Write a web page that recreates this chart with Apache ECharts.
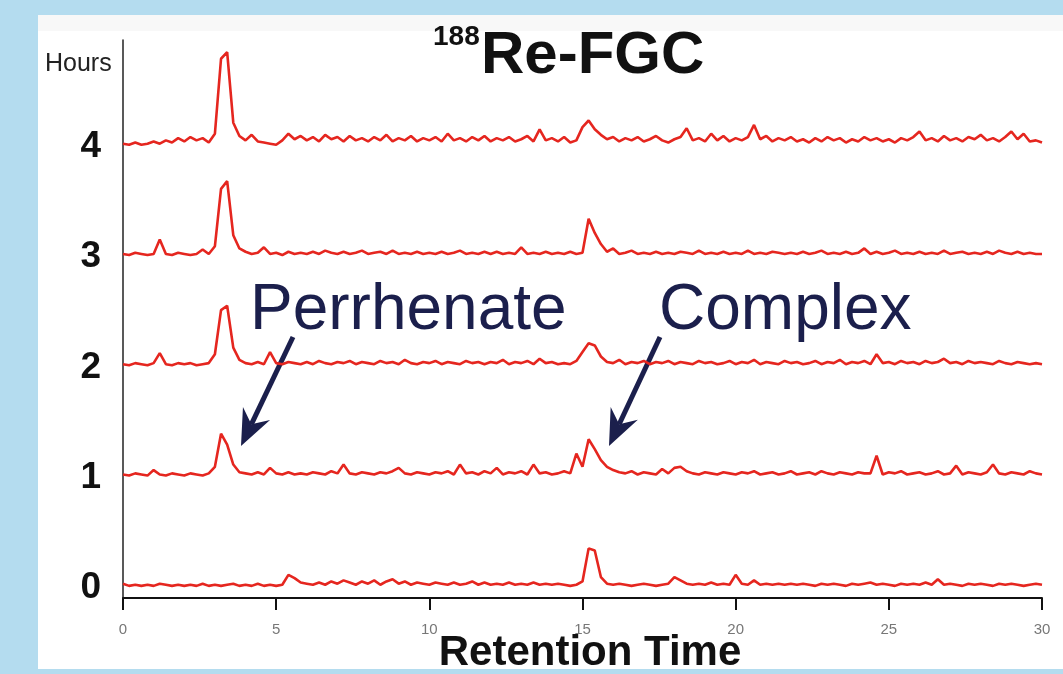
<!DOCTYPE html>
<html>
<head>
<meta charset="utf-8">
<script src="https://cdn.jsdelivr.net/npm/echarts@6/dist/echarts.min.js"></script>
<style>
  html, body {margin: 0; padding: 0; background: #fff;}
  #chart {width: 1063px; height: 674px;}
</style>
</head>
<body>
<div id="chart"></div>
<script>
// retention time sampled every 0.2 min, 0..30
let step = 0.2;
let hours = [0, 1, 2, 3, 4];
let xTicks = [0, 5, 10, 15, 20, 25, 30];

// signal above each trace's baseline, 100 = one row of the stack
let trace0 = [
    4, 2, 3, 2, 3, 2, 4, 3, 2, 3,
    2, 3, 2, 4, 2, 3, 2, 3, 4, 2,
    3, 2, 4, 2, 3, 2, 3, 12, 9, 5,
    4, 3, 5, 3, 6, 4, 7, 5, 3, 6,
    4, 7, 3, 6, 8, 4, 6, 3, 5, 4,
    3, 5, 4, 3, 5, 3, 4, 6, 3, 5,
    3, 4, 3, 5, 3, 4, 3, 5, 3, 4,
    3, 4, 3, 2, 3, 6, 36, 34, 10, 4,
    3, 4, 3, 2, 3, 4, 3, 2, 3, 4,
    10, 7, 4, 3, 4, 3, 5, 3, 4, 3,
    12, 4, 3, 7, 3, 4, 3, 4, 3, 4,
    3, 4, 3, 2, 4, 3, 4, 3, 2, 4,
    3, 4, 5, 3, 4, 3, 2, 4, 3, 4,
    3, 5, 3, 8, 3, 4, 3, 2, 4, 3,
    4, 3, 2, 4, 3, 4, 3, 2, 3, 4,
    3
];
let trace1 = [
    3, 2, 4, 3, 2, 7, 3, 2, 4, 3,
    2, 4, 3, 2, 4, 10, 40, 30, 12, 5,
    4, 3, 5, 3, 9, 4, 3, 5, 3, 4,
    3, 5, 4, 3, 6, 4, 12, 4, 3, 5,
    4, 3, 5, 4, 6, 9, 4, 3, 5, 4,
    3, 5, 4, 6, 3, 12, 4, 5, 3, 6,
    4, 9, 3, 5, 4, 6, 3, 12, 4, 5,
    3, 4, 6, 4, 22, 10, 35, 26, 16, 10,
    7, 5, 4, 6, 3, 5, 4, 3, 8, 4,
    9, 10, 6, 4, 3, 5, 4, 3, 5, 4,
    3, 5, 4, 6, 3, 4, 5, 3, 4, 6,
    3, 4, 5, 3, 6, 4, 3, 5, 4, 3,
    5, 4, 4, 20, 3, 5, 4, 6, 3, 4,
    5, 3, 4, 6, 3, 4, 11, 3, 5, 4,
    3, 5, 12, 4, 3, 5, 4, 3, 6, 4,
    3
];
let trace2 = [
    3, 2, 4, 3, 2, 4, 13, 3, 2, 4,
    3, 4, 2, 3, 4, 12, 52, 56, 18, 7,
    4, 3, 5, 3, 14, 4, 3, 5, 4, 3,
    5, 3, 6, 4, 3, 5, 4, 6, 3, 5,
    4, 3, 6, 4, 5, 3, 7, 4, 3, 5,
    4, 6, 3, 5, 4, 3, 6, 4, 5, 3,
    5, 4, 7, 3, 5, 4, 6, 3, 8, 4,
    5, 3, 4, 3, 6, 14, 22, 20, 10, 5,
    4, 7, 3, 5, 4, 6, 3, 5, 4, 6,
    3, 5, 4, 3, 6, 4, 5, 3, 4, 6,
    3, 5, 4, 7, 3, 5, 4, 3, 6, 4,
    5, 3, 4, 6, 3, 5, 4, 7, 3, 5,
    4, 6, 3, 12, 4, 5, 3, 6, 4, 5,
    3, 6, 4, 5, 8, 4, 5, 3, 6, 4,
    5, 4, 3, 6, 4, 3, 5, 4, 3, 4,
    3
];
let trace3 = [
    3, 2, 4, 3, 2, 3, 16, 3, 2, 4,
    3, 2, 3, 7, 3, 10, 62, 69, 20, 8,
    5, 3, 4, 9, 3, 4, 2, 5, 3, 4,
    3, 5, 3, 6, 4, 3, 5, 3, 4, 6,
    3, 4, 5, 3, 6, 3, 4, 3, 5, 3,
    4, 3, 5, 3, 4, 6, 3, 4, 3, 5,
    3, 5, 3, 4, 3, 9, 3, 4, 3, 5,
    3, 4, 3, 5, 3, 4, 35, 22, 12, 5,
    8, 3, 4, 6, 3, 4, 3, 5, 3, 4,
    3, 5, 4, 3, 6, 3, 4, 3, 5, 3,
    4, 3, 6, 3, 4, 3, 5, 4, 3, 4,
    3, 5, 3, 4, 6, 3, 4, 3, 5, 3,
    4, 8, 3, 5, 3, 4, 6, 3, 4, 3,
    5, 3, 4, 3, 6, 3, 4, 5, 3, 4,
    3, 5, 3, 6, 4, 3, 5, 3, 4, 3,
    3
];
let trace4 = [
    3, 2, 4, 2, 3, 5, 3, 6, 4, 8,
    5, 9, 6, 8, 4, 12, 80, 86, 22, 10,
    6, 11, 5, 4, 3, 2, 6, 12, 7, 10,
    6, 9, 5, 11, 7, 9, 5, 10, 6, 8,
    5, 9, 6, 11, 5, 8, 6, 10, 5, 8,
    6, 9, 5, 12, 6, 8, 5, 9, 6, 10,
    5, 8, 6, 9, 5, 7, 10, 5, 16, 6,
    8, 5, 9, 4, 6, 18, 24, 16, 11, 7,
    9, 5, 8, 6, 9, 5, 7, 10, 6, 4,
    7, 9, 17, 6, 8, 5, 12, 6, 10, 5,
    8, 6, 9, 20, 7, 10, 5, 8, 6, 9,
    5, 7, 4, 8, 5, 9, 6, 8, 4, 7,
    5, 9, 6, 8, 5, 7, 4, 8, 6, 9,
    14, 6, 8, 5, 10, 6, 8, 5, 9, 7,
    11, 6, 8, 5, 9, 14, 7, 12, 5, 6,
    4
];
let traces = [trace0, trace1, trace2, trace3, trace4];

let red = '#e5261f';
let navy = '#1b1f4c';
let blue = '#b4dcef';
let font = 'Liberation Sans, Arial, sans-serif';

let myChart = echarts.init(document.getElementById('chart'));

function stacked(values, hour) {
    return values.map((v, i) => [+(i * step).toFixed(1), hour + v / 100]);
}

// arrow drawn as a shaft plus a barbed head
function arrow(x1, y1, x2, y2) {
    let dx = x2 - x1, dy = y2 - y1;
    let len = Math.sqrt(dx * dx + dy * dy);
    let ux = dx / len, uy = dy / len;
    let nx = -uy, ny = ux;
    let hl = 36, hw = 15, notch = 24;
    let bx = x2 - hl * ux, by = y2 - hl * uy;
    let kx = x2 - notch * ux, ky = y2 - notch * uy;
    return [
        {
            type: 'line',
            shape: {x1: x1, y1: y1, x2: kx, y2: ky},
            style: {stroke: navy, lineWidth: 5}
        },
        {
            type: 'polygon',
            shape: {points: [[x2, y2], [bx + hw * nx, by + hw * ny], [kx, ky], [bx - hw * nx, by - hw * ny]]},
            style: {fill: navy}
        }
    ];
}

let graphics = [
    // light blue frame round the white panel
    {type: 'rect', shape: {x: 0, y: 0, width: 1063, height: 15}, style: {fill: blue}},
    {type: 'rect', shape: {x: 0, y: 0, width: 38, height: 674}, style: {fill: blue}},
    {type: 'rect', shape: {x: 0, y: 669, width: 1063, height: 5}, style: {fill: blue}},
    {type: 'rect', shape: {x: 38, y: 15, width: 1025, height: 16}, style: {fill: '#f8f8f8'}},
    {
        type: 'text', x: 433, y: 37,
        style: {text: '188', font: 'bold 28px ' + font, fill: '#111', verticalAlign: 'middle'}
    },
    {
        type: 'text', x: 481, y: 56,
        style: {text: 'Re-FGC', font: 'bold 60px ' + font, fill: '#111', verticalAlign: 'middle'}
    },
    {
        type: 'text', x: 45, y: 64,
        style: {text: 'Hours', font: '25px ' + font, fill: '#222', verticalAlign: 'middle'}
    },
    {
        type: 'text', x: 250, y: 311,
        style: {text: 'Perrhenate', font: '64px ' + font, fill: navy, verticalAlign: 'middle'}
    },
    {
        type: 'text', x: 659, y: 311,
        style: {text: 'Complex', font: '64px ' + font, fill: navy, verticalAlign: 'middle'}
    },
    {
        type: 'text', x: 590, y: 653,
        style: {text: 'Retention Time', font: 'bold 42px ' + font, fill: '#111', align: 'center', verticalAlign: 'middle'}
    }
].concat(arrow(293, 337, 241, 446), arrow(660, 337, 609, 446));

myChart.setOption({
    backgroundColor: '#fff',
    animation: false,
    grid: {left: 123, right: 21, top: 40, bottom: 76},
    xAxis: {
        type: 'value',
        min: 0,
        max: 30,
        interval: 5,
        axisLine: {onZero: false, lineStyle: {color: '#111', width: 2}},
        axisTick: {show: true, length: 12, lineStyle: {color: '#111', width: 2}},
        axisLabel: {
            margin: 24,
            color: '#777',
            fontSize: 15,
            fontFamily: font,
            customValues: xTicks
        },
        splitLine: {show: false}
    },
    yAxis: {
        type: 'value',
        min: -0.09,
        max: 4.97,
        axisLine: {show: true, lineStyle: {color: '#222', width: 1.5}},
        axisTick: {show: false},
        axisLabel: {
            margin: 22,
            color: '#111',
            fontSize: 37,
            fontWeight: 'bold',
            fontFamily: font,
            customValues: hours
        },
        splitLine: {show: false}
    },
    series: traces.map((t, h) => ({
        name: hours[h] + ' h',
        type: 'line',
        showSymbol: false,
        data: stacked(t, hours[h]),
        lineStyle: {color: red, width: 2.6},
        itemStyle: {color: red},
        z: 2
    })),
    graphic: {elements: graphics}
});
</script>
</body>
</html>
